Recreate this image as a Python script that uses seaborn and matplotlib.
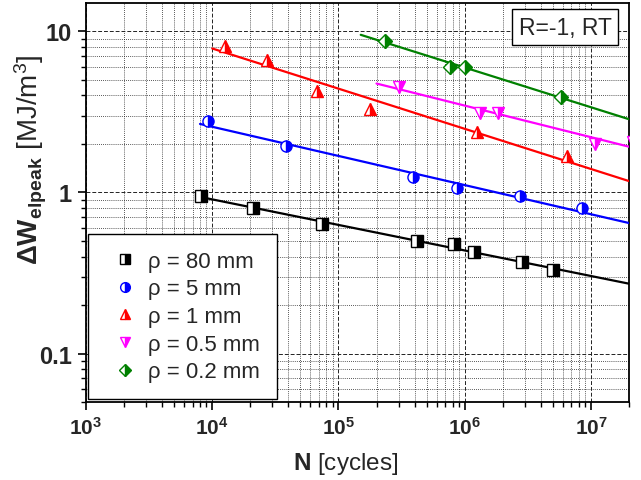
import numpy as np
import pandas as pd
import matplotlib
matplotlib.use("Agg")
import matplotlib.pyplot as plt
import seaborn as sns
from matplotlib.lines import Line2D
from matplotlib.ticker import LogLocator, NullFormatter, FixedLocator, FixedFormatter

# ---------------- data ----------------
labels = ["ρ = 80 mm", "ρ = 5 mm", "ρ = 1 mm", "ρ = 0.5 mm", "ρ = 0.2 mm"]
colors = ["#000000", "#0000FF", "#FF0000", "#FF00FF", "#008000"]
markers = ["s", "o", "^", "v", "D"]

n_80 = [8110, 20900, 73400, 421000, 826000, 1.19e6, 2.85e6, 5.01e6]
w_80 = [0.95, 0.80, 0.636, 0.499, 0.477, 0.425, 0.369, 0.329]
n_5 = [9210, 38100, 392000, 873000, 2.75e6, 8.49e6]
w_5 = [2.78, 1.94, 1.247, 1.064, 0.95, 0.80]
n_1 = [12550, 27000, 67000, 179000, 1.256e6, 6.46e6]
w_1 = [8.15, 6.67, 4.28, 3.30, 2.38, 1.68]
n_05 = [303000, 1.327e6, 1.84e6, 1.08e7, 2.15e7]
w_05 = [4.53, 3.12, 3.12, 2.0, 2.05]
n_02 = [235000, 768000, 1.01e6, 5.79e6]
w_02 = [8.75, 6.03, 6.03, 3.92]

fit_start = [7.5e3, 8e3, 1e4, 2e5, 1.5e5]
fit_end = 2e7

x_ticks = [1e3, 1e4, 1e5, 1e6, 1e7]
x_ticklabels = [r"$\mathbf{10^{3}}$", r"$\mathbf{10^{4}}$", r"$\mathbf{10^{5}}$",
                r"$\mathbf{10^{6}}$", r"$\mathbf{10^{7}}$"]
y_ticks = [0.1, 1, 10]
y_ticklabels = ["0.1", "1", "10"]

series_n = [n_80, n_5, n_1, n_05, n_02]
series_w = [w_80, w_5, w_1, w_05, w_02]

# ---------------- style ----------------
sns.set_theme(style="ticks")
plt.rcParams["font.family"] = ["Liberation Sans", "DejaVu Sans"]
plt.rcParams["mathtext.fontset"] = "custom"
plt.rcParams["mathtext.rm"] = "Liberation Sans"
plt.rcParams["mathtext.bf"] = "Liberation Sans:bold"
plt.rcParams["mathtext.it"] = "Liberation Sans:italic"

fig = plt.figure(figsize=(6.41, 4.81), dpi=100)
ax = fig.add_axes([86 / 641, 1 - 403 / 481, (629 - 86) / 641, (403 - 4) / 481])
ax.set_xscale("log")
ax.set_yscale("log")

# fitted power-law lines
rows = []
for lab, n, w, s in zip(labels, series_n, series_w, fit_start):
    b, a = np.polyfit(np.log10(n), np.log10(w), 1)
    xx = np.array([s, fit_end])
    yy = 10 ** (a + b * np.log10(xx))
    for xv, yv in zip(xx, yy):
        rows.append({"series": lab, "N": xv, "W": yv})
fit_df = pd.DataFrame(rows)
sns.lineplot(data=fit_df, x="N", y="W", hue="series", palette=dict(zip(labels, colors)),
             estimator=None, sort=False, linewidth=1.6, legend=False, ax=ax, zorder=3)

# data points (half-filled markers)
for lab, n, w, c, m in zip(labels, series_n, series_w, colors, markers):
    df = pd.DataFrame({"N": n, "W": w})
    sns.lineplot(data=df, x="N", y="W", estimator=None, sort=False, ax=ax,
                 color=c, linestyle="none", marker=m,
                 markersize=7 if m == "D" else 8,
                 fillstyle="right", markerfacecoloralt="white",
                 markeredgecolor=c, markeredgewidth=1.0, zorder=4, legend=False)

ax.set_xlim(1e3, 2e7)
ax.set_ylim(0.05, 15)

ax.xaxis.set_major_locator(FixedLocator(x_ticks))
ax.xaxis.set_major_formatter(FixedFormatter(x_ticklabels))
ax.xaxis.set_minor_locator(LogLocator(base=10, subs=np.arange(2, 10), numticks=20))
ax.xaxis.set_minor_formatter(NullFormatter())
ax.yaxis.set_major_locator(FixedLocator(y_ticks))
ax.yaxis.set_major_formatter(FixedFormatter(y_ticklabels))
ax.yaxis.set_minor_locator(LogLocator(base=10, subs=np.arange(2, 10), numticks=20))
ax.yaxis.set_minor_formatter(NullFormatter())

ax.grid(which="major", linestyle=(0, (4, 2)), color="#222222", linewidth=0.7)
ax.grid(which="minor", linestyle=(0, (1, 1.5)), color="#222222", linewidth=0.6)
ax.set_axisbelow(True)

for sp in ax.spines.values():
    sp.set_visible(True)
    sp.set_color("black")
    sp.set_linewidth(1.3)

ax.tick_params(which="major", direction="out", length=6, width=1.2, color="black",
               labelsize=15, pad=4, top=False, right=False)
ax.tick_params(which="minor", direction="out", length=3.5, width=1.0, color="black",
               top=False, right=False)
for t in ax.get_yticklabels():
    t.set_fontweight("bold")
    t.set_fontsize(17)

ax.set_xlabel(r"$\mathbf{N}$ [cycles]", fontsize=17.5)
ax.xaxis.set_label_coords((346 - 86) / 543, (403 - 451) / 399)
ax.set_ylabel(r"$\mathbf{\Delta W_{elpeak}}$ [MJ/m$^{3}$]", fontsize=20)
ax.yaxis.set_label_coords((49 - 86) / 543, (403 - 160) / 399)

# legend
handles = [Line2D([], [], linestyle="none", marker=m, color=c, markersize=6 if m == "D" else 7,
                  fillstyle="right", markerfacecoloralt="white", markeredgecolor=c,
                  markeredgewidth=1.0)
           for c, m in zip(colors, markers)]
leg = ax.legend(handles, labels, loc="lower left", bbox_to_anchor=(0.004, 0.0075),
                fontsize=16, frameon=True, fancybox=False, edgecolor="black",
                framealpha=1, borderpad=0.75, labelspacing=0.3, handlelength=1.8,
                handletextpad=0.15, borderaxespad=0)
leg.get_frame().set_linewidth(1.0)
leg.set_zorder(10)

ax.text((565 - 86) / 543, (403 - 28) / 399, "R=-1, RT", transform=ax.transAxes,
        ha="center", va="center", fontsize=16.5, zorder=10,
        bbox=dict(boxstyle="square,pad=0.3", facecolor="white", edgecolor="black", linewidth=1.0))

fig.savefig("out.png", dpi=100)
